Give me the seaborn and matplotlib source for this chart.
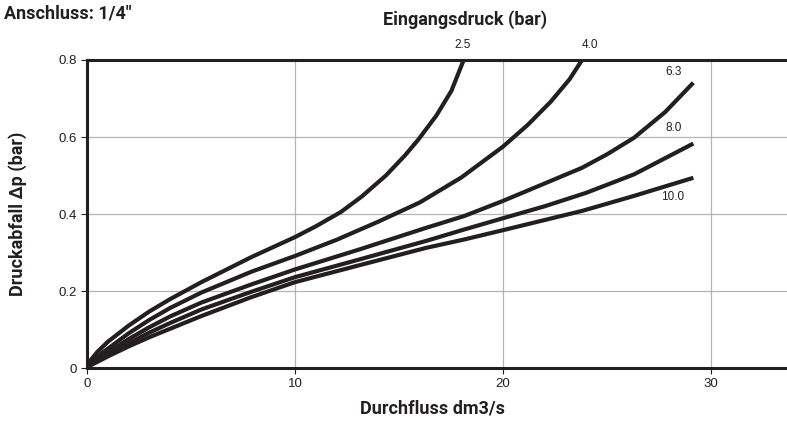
import numpy as np
import pandas as pd
import matplotlib
matplotlib.use("Agg")
from matplotlib import pyplot as plt
import seaborn as sns

# values (flow dm3/s, pressure drop bar)
x_25 = [0, 0.2, 0.5, 1, 2, 3, 4, 5.5, 7.9, 10, 11, 12.2, 13.2, 14.37, 15.3, 15.94, 16.8,
        17.52, 18.11]
y_25 = [0, 0.022, 0.042, 0.068, 0.11, 0.147, 0.179, 0.223, 0.288, 0.34, 0.368, 0.405, 0.445,
        0.5, 0.553, 0.594, 0.656, 0.72, 0.8]

x_40 = [0, 0.2, 0.5, 1, 2, 3, 4, 5.5, 7.9, 10, 12, 14, 16, 18, 20, 21.2, 22.3, 23.2, 23.8]
y_40 = [0, 0.016, 0.03, 0.05, 0.09, 0.125, 0.156, 0.196, 0.25, 0.291, 0.333, 0.38, 0.43,
        0.495, 0.575, 0.632, 0.692, 0.75, 0.8]

x_63 = [0, 0.2, 0.5, 1, 2, 3, 4, 5.5, 7.9, 10, 13.1, 16.3, 18.15, 20, 23.8, 25, 26.3,
        27.8, 29.15]
y_63 = [0, 0.011, 0.023, 0.04, 0.075, 0.106, 0.134, 0.17, 0.217, 0.256, 0.308, 0.364, 0.395,
        0.434, 0.52, 0.555, 0.598, 0.665, 0.741]

x_80 = [0, 0.2, 0.5, 1, 2, 3, 4, 5.5, 7.9, 10, 13.1, 16.3, 18.15, 20, 22, 24, 26.3, 29.15]
y_80 = [0, 0.009, 0.019, 0.034, 0.064, 0.092, 0.117, 0.152, 0.198, 0.236, 0.282, 0.33, 0.36,
        0.389, 0.42, 0.455, 0.503, 0.583]

x_100 = [0, 0.2, 0.5, 1, 2, 3, 4, 5.5, 7.9, 10, 13.1, 16.3, 18.15, 20, 23.8, 26.3, 29.15]
y_100 = [0, 0.008, 0.016, 0.03, 0.056, 0.08, 0.102, 0.135, 0.184, 0.223, 0.267, 0.312, 0.334,
         0.358, 0.408, 0.447, 0.494]

series_names = ["2.5", "4.0", "6.3", "8.0", "10.0"]
series_x = [x_25, x_40, x_63, x_80, x_100]
series_y = [y_25, y_40, y_63, y_80, y_100]

x_ticks = [0, 10, 20, 30]
y_ticks = [0, 0.2, 0.4, 0.6, 0.8]
y_ticklabels = ["0", "0.2", "0.4", "0.6", "0.8"]

frames = []
for name, xs, ys in zip(series_names, series_x, series_y):
    frames.append(pd.DataFrame({"flow": xs, "drop": ys, "p": name}))
df = pd.concat(frames, ignore_index=True)

sns.set_style("white")
plt.rcParams["font.family"] = ["Liberation Sans", "DejaVu Sans"]

ink = "#231f20"
fig = plt.figure(figsize=(7.87, 4.23), dpi=100)
ax = fig.add_axes([87 / 787, 1 - 368 / 423, 1 - 87 / 787, (368 - 60) / 423])

sns.lineplot(data=df, x="flow", y="drop", hue="p", palette=[ink] * 5,
             sort=False, estimator=None, linewidth=3.0, legend=False, ax=ax,
             solid_capstyle="butt", solid_joinstyle="round")

ax.set_xlim(0, 700 / 20.8)
ax.set_ylim(0, 0.8)
ax.set_xticks(x_ticks)
ax.set_yticks(y_ticks)
ax.set_yticklabels(y_ticklabels)
ax.grid(True, color="#b4b4b4", linewidth=0.9)
ax.set_axisbelow(True)

for side in ["left", "bottom", "top"]:
    ax.spines[side].set_visible(True)
    ax.spines[side].set_color(ink)
    ax.spines[side].set_linewidth(2.2)
ax.spines["right"].set_visible(False)
ax.tick_params(axis="both", which="major", length=4, width=0.8, color=ink,
               labelsize=9.5, labelcolor=ink, pad=3, left=True, bottom=True)

ax.set_xlabel("")
ax.set_ylabel("")

# curve labels, offsets in points from the end of each curve
offsets = {"2.5": (-1, 11), "4.0": (6, 11), "6.3": (-14, 8), "8.0": (-14, 11), "10.0": (-15, -14)}
for name, xs, ys in zip(series_names, series_x, series_y):
    ax.annotate(name, (xs[-1], ys[-1]), xytext=offsets[name], textcoords="offset points",
                ha="center", va="center", fontsize=8.5, color=ink, annotation_clip=False)

bold = ["Roboto", "DejaVu Sans"]
fig.text(4 / 787, 1 - 14 / 423, "Anschluss: 1/4\u2033", family=bold, fontweight="bold",
         fontsize=13, color=ink, ha="left", va="center")
fig.text(465 / 787, 1 - 20 / 423, "Eingangsdruck (bar)", family=bold, fontweight="bold",
         fontsize=13, color=ink, ha="center", va="center")
fig.text(432 / 787, 1 - 408 / 423, "Durchfluss dm3/s", family=bold, fontweight="bold",
         fontsize=13, color=ink, ha="center", va="center")
fig.text(18 / 787, 1 - 214 / 423, "Druckabfall \u0394p (bar)", family=bold, fontweight="bold",
         fontsize=13, color=ink, ha="center", va="center", rotation=90)

fig.savefig("out.png", dpi=100)
